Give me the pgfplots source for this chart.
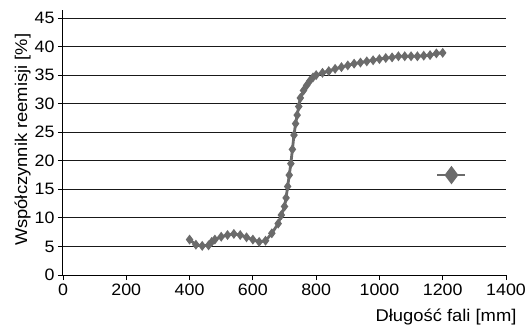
\documentclass[border=0pt]{standalone}
\usepackage{fontspec}
\setmainfont{Liberation Sans}[FakeStretch=1.08]
\usepackage{pgfplots}
\pgfplotsset{compat=1.18}
\definecolor{ser}{HTML}{6B6B6B}
\pgfplotstableread{
x y
400 6.2
420 5.3
440 5.1
460 5.2
470 5.8
480 6.2
500 6.7
520 7.0
540 7.2
560 7.0
580 6.6
600 6.2
620 5.8
640 6.0
660 7.3
680 9.0
690 10.5
700 12.0
705 13.5
710 15.5
715 17.5
720 19.5
725 22.0
730 24.5
735 26.5
740 28.0
745 29.5
750 31.0
760 32.3
770 33.2
780 34.0
790 34.6
800 35.0
820 35.4
840 35.7
860 36.1
880 36.4
900 36.7
920 37.0
940 37.2
960 37.4
980 37.6
1000 37.8
1020 38.0
1040 38.1
1060 38.3
1080 38.3
1100 38.3
1120 38.3
1140 38.4
1160 38.5
1180 38.8
1200 38.9
}\datatable
\begin{document}
\begin{tikzpicture}
\useasboundingbox (-63pt,-52pt) rectangle (463pt,275pt);
\begin{axis}[
  scale only axis, width=443pt, height=265pt,
  xmin=0, xmax=1400, ymin=0, ymax=46.4,
  xtick={0,200,...,1400}, ytick={0,5,...,45},
  axis lines*=left,
  axis line style={black, line width=1pt},
  ymajorgrids, grid style={black!90, line width=0.9pt},
  tick align=outside, major tick length=5pt,
  tick style={black, line width=0.9pt},
  /pgf/number format/assume math mode=true,
  /pgf/number format/1000 sep={},
  tick label style={font=\fontsize{16.5}{18}\selectfont, text=black},
  label style={font=\fontsize{17}{19}\selectfont, text=black},
  xlabel={Długość fali [mm]},
  ylabel={Współczynnik reemisji [\%]},
  xlabel style={at={(axis description cs:1.024,-0.177)}, anchor=base east, inner sep=0pt},
  ylabel style={at={(axis description cs:-0.081,0.51)}, anchor=base, inner sep=0pt},
  legend style={draw=none, fill=none, at={(axis description cs:0.878,0.377)}, anchor=center, inner sep=0pt, outer sep=0pt, nodes={inner sep=0pt}},
  legend image code/.code={\draw[mark repeat=2,mark phase=2] plot coordinates {(0pt,0pt) (14pt,0pt) (28pt,0pt)};},
]
\addplot[forget plot, color=ser, line width=2.8pt, mark=diamond*, mark size=2.7pt, mark options={solid}] table[x=x,y=y] {\datatable};
\addlegendimage{color=ser, line width=1.5pt, mark=diamond*, mark size=8pt, mark options={solid}}
\addlegendentry{}
\end{axis}
\end{tikzpicture}
\end{document}
